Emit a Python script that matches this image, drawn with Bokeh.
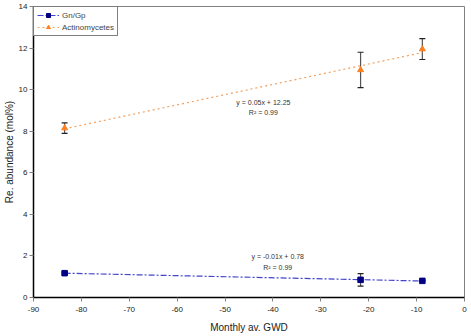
import numpy as np
from bokeh.plotting import figure
from bokeh.models import ColumnDataSource, Whisker, TeeHead, Legend, LegendItem, Label, FixedTicker
from bokeh.embed import file_html
from bokeh.resources import INLINE

# Data
gwd = [-83.5, -21.7, -8.8]
gn_gp = [1.17, 0.85, 0.80]
gn_gp_err = [0.05, 0.30, 0.0]
actino = [8.15, 10.95, 11.95]
actino_err = [0.25, 0.85, 0.50]
x_ticks = [-90, -80, -70, -60, -50, -40, -30, -20, -10, 0]
y_ticks = [0, 2, 4, 6, 8, 10, 12, 14]

FONT = "Liberation Sans"

p = figure(width=471, height=336, x_range=(-90, 0), y_range=(0, 14),
           output_backend="svg", toolbar_location=None,
           min_border_left=28, min_border_right=7, min_border_top=6, min_border_bottom=39)
p.grid.visible = False
p.outline_line_color = "#808080"
p.outline_line_width = 1

p.xaxis.ticker = FixedTicker(ticks=x_ticks)
p.yaxis.ticker = FixedTicker(ticks=y_ticks)
p.xaxis.major_label_overrides = {t: str(t) for t in x_ticks}
for ax in (p.xaxis[0], p.yaxis[0]):
    ax.minor_tick_line_color = None
    ax.major_tick_in = 0
    ax.major_tick_out = 4
    ax.major_tick_line_color = "#808080"
    ax.axis_line_color = "black"
    ax.axis_line_width = 1.5
    ax.major_label_text_font = FONT
    ax.major_label_text_font_size = "8px"
    ax.major_label_text_color = "#222222"
    ax.axis_label_text_font = FONT
    ax.axis_label_text_font_size = "10px"
    ax.axis_label_text_font_style = "normal"
    ax.axis_label_text_color = "#222222"
    ax.major_label_standoff = 2
p.xaxis.major_label_standoff = 5
p.xaxis.axis_label = "Monthly av. GWD"
p.yaxis.axis_label = "Re. abundance (mol%)"
p.yaxis.axis_label_standoff = 1
p.xaxis.axis_label_standoff = 7

# Trendlines (linear regression of the data)
xs = np.array(gwd)
xr = np.array([min(gwd), max(gwd)])
ca = np.polyfit(xs, np.array(actino), 1)
cg = np.polyfit(xs, np.array(gn_gp), 1)
tl_a = p.line(xr, np.polyval(ca, xr), line_color="#F0A060", line_dash="2 3", line_width=1.2)
tl_g = p.line(xr, np.polyval(cg, xr), line_color="#4444CC", line_dash="6 2 2 2", line_width=1.2)

# Error bars
src_a = ColumnDataSource(dict(x=gwd, lo=[a - e for a, e in zip(actino, actino_err)],
                              hi=[a + e for a, e in zip(actino, actino_err)]))
src_g = ColumnDataSource(dict(x=gwd, lo=[a - e for a, e in zip(gn_gp, gn_gp_err)],
                              hi=[a + e for a, e in zip(gn_gp, gn_gp_err)]))
for src in (src_a, src_g):
    w = Whisker(source=src, base="x", lower="lo", upper="hi", line_color="#555555", line_width=1.2,
                upper_head=TeeHead(size=6, line_color="#222222", line_width=1.2),
                lower_head=TeeHead(size=6, line_color="#222222", line_width=1.2))
    p.add_layout(w)

m_g = p.scatter(gwd, gn_gp, marker="square", size=5.5, fill_color="#000080", line_color="#000080")
m_a = p.scatter(gwd, actino, marker="triangle", size=6, fill_color="#FF7F1F", line_color="#FF7F1F")

legend = Legend(items=[LegendItem(label="Gn/Gp", renderers=[tl_g, m_g]),
                       LegendItem(label="Actinomycetes", renderers=[tl_a, m_a])],
                location="top_left")
legend.label_text_font = FONT
legend.label_text_font_size = "8px"
legend.label_height = 10
legend.glyph_height = 10
legend.glyph_width = 22
legend.spacing = 2
legend.padding = 3
legend.margin = 0
legend.border_line_color = "black"
legend.border_line_width = 1
legend.label_standoff = 3
p.add_layout(legend)

# Equation labels
for txt, x, y in [("y = 0.05x + 12.25", -42.0, 9.4), ("R² = 0.99", -42.0, 8.9),
                  ("y = -0.01x + 0.78", -39.0, 1.97), ("R² = 0.99", -39.0, 1.45)]:
    p.add_layout(Label(x=x, y=y, text=txt, text_font=FONT, text_font_size="7px",
                       text_color="#333333", text_align="center", text_baseline="middle"))

open("out.html", "w").write(file_html(p, INLINE))
